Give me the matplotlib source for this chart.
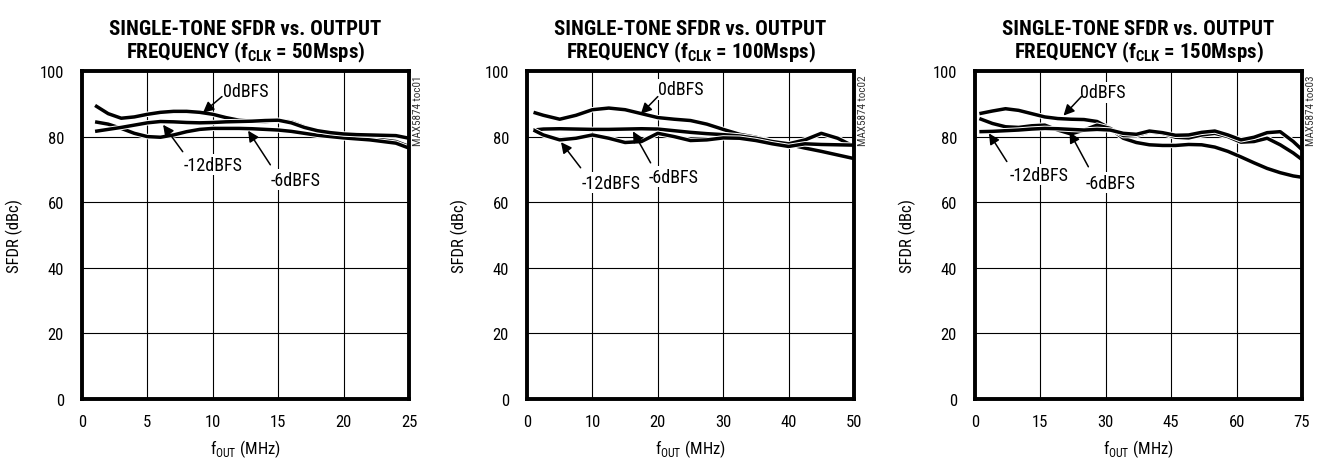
"""Single-tone SFDR vs output frequency, three clock rates."""

import matplotlib
matplotlib.use("Agg")
import matplotlib.pyplot as plt
import matplotlib.patheffects as pe

plt.rcParams['font.family'] = ['Roboto Condensed', 'DejaVu Sans']
plt.rcParams['mathtext.fontset'] = 'custom'
plt.rcParams['mathtext.rm'] = 'Roboto Condensed'
plt.rcParams['mathtext.bf'] = 'Roboto Condensed:bold'

# ---- data ----
clocks = ["50", "100", "150"]
xmax = [25, 50, 75]
xticks = [[0, 5, 10, 15, 20, 25], [0, 10, 20, 30, 40, 50], [0, 15, 30, 45, 60, 75]]
tags = ["MAX5874 toc01", "MAX5874 toc02", "MAX5874 toc03"]

f1 = [1, 2, 3, 4, 5, 6, 7, 8, 9, 10, 11, 12, 13, 14, 15, 16, 17, 18, 19, 20, 21, 22, 23, 24, 25]
p1_0db = [89.5, 87, 85.6, 86, 86.8, 87.4, 87.7, 87.7, 87.4, 86.8, 85.8, 85, 84.7, 84.6, 84.8,
          84.5, 83, 81.6, 80.6, 80, 79.6, 79.3, 79, 78.5, 77]
p1_6db = [84.5, 83.8, 82.5, 81, 80, 79.8, 80.5, 81.5, 82.2, 82.5, 82.5, 82.5, 82.4, 82.2, 82,
          81.6, 81, 80.4, 80, 79.6, 79.3, 79, 78.5, 78, 76.5]
p1_12db = [81.6, 82.2, 82.8, 83.5, 84.2, 84.6, 84.5, 84.3, 84.2, 84.3, 84.5, 84.6, 84.7, 84.9, 85,
           84.2, 82.8, 81.8, 81.2, 80.8, 80.6, 80.5, 80.4, 80.3, 79.5]

f2 = [1, 2.5, 5, 7.5, 10, 12.5, 15, 17.5, 20, 22.5, 25, 27.5, 30, 32.5, 35, 37.5, 40, 42.5, 45, 47.5, 50]
p2_0db = [87.4, 86.5, 85.3, 86.5, 88.2, 88.7, 88.2, 87, 85.8, 85.3, 84.9, 83.8, 82.2, 80.7, 79.8,
          78.5, 77.6, 76.5, 75.5, 74.4, 73.3]
p2_6db = [82, 82.3, 82.4, 82.3, 82.2, 82.2, 82.3, 82.4, 82.3, 81.8, 81.3, 80.9, 80.6, 80.2, 79.5,
          78.5, 77.8, 79, 81, 79.5, 77]
p2_12db = [82, 80.5, 79, 79.5, 80.5, 79.5, 78.2, 78.5, 81, 80, 78.8, 79, 79.6, 79.5, 78.8,
           77.8, 77, 77.8, 77.6, 77.5, 77.4]

f3 = [1, 4, 7, 10, 13, 16, 19, 22, 25, 28, 31, 34, 37, 40, 43, 46, 49, 52, 55, 58, 61, 64, 67, 70, 73, 75]
p3_0db = [87, 87.8, 88.5, 88, 87, 86, 85.5, 85.3, 85.2, 84.6, 82.5, 79.5, 78.2, 77.5, 77.3, 77.3,
          77.6, 77.5, 76.8, 75.5, 73.8, 72, 70.3, 69, 68, 67.6]
p3_6db = [85.5, 84, 83, 82.8, 83.3, 83.5, 82, 80.8, 82, 83.5, 82.5, 80.3, 80.3, 81.5, 81, 79.8,
          79.6, 80.5, 81, 80, 78.3, 78.5, 79.5, 77.5, 75, 73]
p3_12db = [81.5, 81.6, 81.8, 82, 82.3, 82.5, 82.4, 82.2, 82, 82.2, 82, 81, 80.7, 81.7, 81.2, 80.4,
           80.5, 81.3, 81.7, 80.5, 79, 79.8, 81.2, 81.5, 78.5, 76]

freqs = [f1, f2, f3]
curves = [[p1_0db, p1_6db, p1_12db], [p2_0db, p2_6db, p2_12db], [p3_0db, p3_6db, p3_12db]]

# label text pos, arrow tail, arrow head (data coords)
notes = [
    [("0dBFS", (12.5, 94), (10.7, 92.2), (9.25, 87.3)),
     ("-12dBFS", (10, 71.4), (7.7, 75.4), (6.2, 83.6)),
     ("-6dBFS", (16.3, 66.9), (14.4, 71.4), (12.7, 81.8))],
    [("0dBFS", (23.5, 94.4), (20, 92.2), (17.4, 86.9)),
     ("-12dBFS", (12.8, 66), (8.2, 70.5), (5.2, 78.3)),
     ("-6dBFS", (22.4, 67.8), (18.9, 72), (16.2, 81.6))],
    [("0dBFS", (29.4, 93.5), (24.4, 92.2), (20.3, 86.4)),
     ("-12dBFS", (14.6, 68.4), (7.3, 72.4), (3.2, 81))],
]
notes[2].append(("-6dBFS", (31.2, 66), (26, 70.8), (21.7, 81.4)))

fig = plt.figure(figsize=(13.23, 4.6), dpi=100)
lefts = [82, 527, 975]

for i in range(3):
    ax = fig.add_axes([lefts[i] / 1323, 60 / 460, 327 / 1323, 328 / 460])
    ax.set_xlim(0, xmax[i])
    ax.set_ylim(0, 100)
    ax.set_xticks(xticks[i])
    ax.set_yticks([0, 20, 40, 60, 80, 100])
    ax.grid(True, color='black', linewidth=0.8)
    ax.tick_params(axis='y', length=0, labelsize=12, pad=13)
    ax.tick_params(axis='x', length=0, labelsize=12, pad=11)
    for s in ax.spines.values():
        s.set_linewidth(2.8)

    for y in curves[i]:
        ax.plot(freqs[i], y, color='black', linewidth=2.5, solid_capstyle='butt',
                solid_joinstyle='round',
                path_effects=[pe.Stroke(linewidth=3.9, foreground='white'), pe.Normal()])

    for txt, tpos, tail, head in notes[i]:
        ax.text(tpos[0], tpos[1], txt, ha='center', va='center', fontsize=13,
                bbox=dict(facecolor='white', edgecolor='none', pad=1))
        ax.annotate("", xy=head, xytext=tail,
                    arrowprops=dict(arrowstyle='-|>', color='black', lw=1.1,
                                    mutation_scale=16, shrinkA=0, shrinkB=0))

    ax.set_title("SINGLE-TONE SFDR vs. OUTPUT\nFREQUENCY (f$_{\\mathbf{CLK}}$ = " + clocks[i] + "Msps)",
                 fontsize=15, fontweight='bold', pad=10, linespacing=1.05)
    ax.set_xlabel("f$_{\\mathrm{OUT}}$ (MHz)", fontsize=12, labelpad=6)
    ax.set_ylabel("SFDR (dBc)", fontsize=12, labelpad=12)
    ax.text(1.028, 0.99, tags[i], transform=ax.transAxes, rotation=90,
            ha='center', va='top', fontsize=8, color='#333333')

plt.savefig("out.png", dpi=100)
plt.close()
